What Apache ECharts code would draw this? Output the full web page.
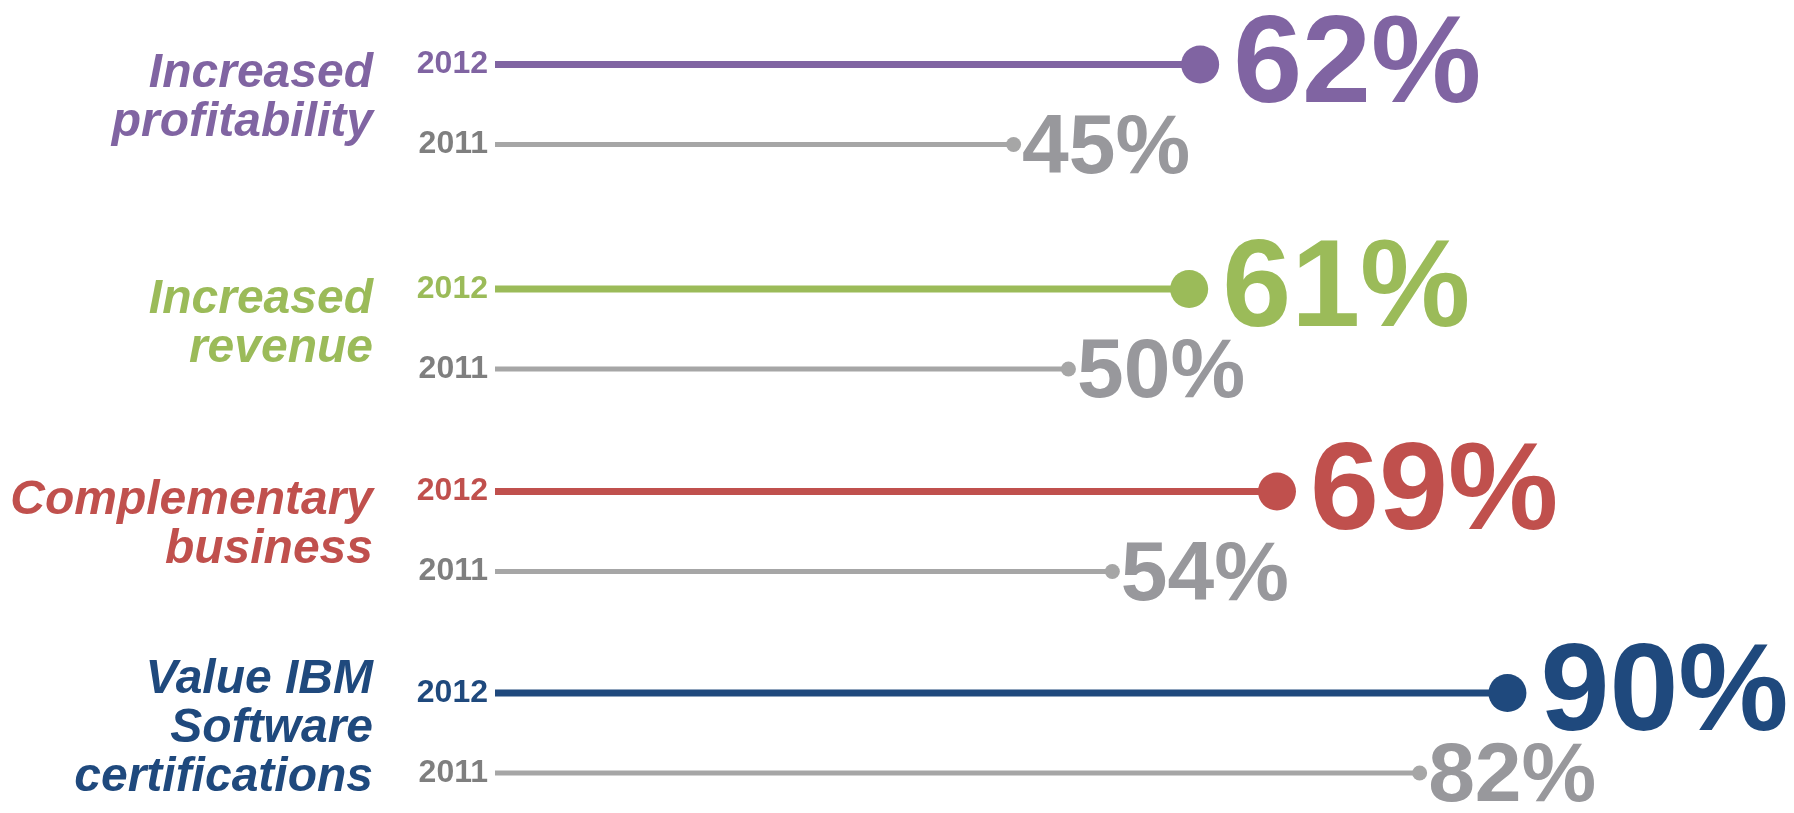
<!DOCTYPE html>
<html lang="en">
<head>
    <meta charset="UTF-8">
    <title>Survey results 2011 vs 2012</title>
    <script src="https://cdn.jsdelivr.net/npm/echarts@6/dist/echarts.min.js"></script>
    <style>
        html, body { margin: 0; padding: 0; background: #fff; }
        #chart { width: 1794px; height: 813px; }
    </style>
</head>
<body>

<div id="chart"></div>

<script type="text/javascript">
    // data
    var groups = ['Increased\nprofitability', 'Increased\nrevenue', 'Complementary\nbusiness', 'Value IBM\nSoftware\ncertifications'];
    var years = ['2012', '2011'];
    var values2012 = [62, 61, 69, 90];
    var values2011 = [45, 50, 54, 82];

    // look
    var groupColors = ['#8064a2', '#9bbb59', '#c0504d', '#1f497d'];
    var greyLine = '#a6a6a6';
    var greyText = '#98989c';
    var greyYear = '#7f7f7f';
    var font = 'Liberation Sans, Arial, sans-serif';

    // layout of the four blocks
    var gridTops = [24.5, 249, 451.5, 653];
    var gridHeight = 160;
    var nameShift = [6, 5, 6, 4];
    var xMin = -2.25, xMax = 100;

    var chart = echarts.init(document.getElementById('chart'));

    var grid = [], xAxis = [], yAxis = [], series = [];

    groups.forEach(function (name, g) {
        var color = groupColors[g];
        var vals = [values2012[g], values2011[g]];

        grid.push({
            left: 495,
            top: gridTops[g],
            width: (xMax - xMin) * 10.975,
            height: gridHeight,
            outerBoundsMode: 'none',
            containLabel: false
        });

        xAxis.push({gridIndex: g, type: 'value', min: xMin, max: xMax, show: false});

        yAxis.push({
            gridIndex: g,
            type: 'category',
            data: years,
            inverse: true,
            axisLine: {show: false},
            axisTick: {show: false},
            splitLine: {show: false},
            axisLabel: {
                margin: 7,
                fontSize: 32,
                fontWeight: 'bold',
                fontFamily: font,
                color: function (val) { return val === '2012' ? color : greyYear; }
            },
            // an empty last line lifts the block a little
            name: name + '\n{gap| }',
            nameLocation: 'middle',
            nameRotate: 0,
            nameGap: 122,
            nameTextStyle: {
                fontSize: 48,
                fontWeight: 'bold',
                fontStyle: 'italic',
                fontFamily: font,
                color: color,
                align: 'right',
                verticalAlign: 'middle',
                lineHeight: 49,
                rich: {
                    gap: {fontSize: 1, lineHeight: nameShift[g] * 2}
                }
            }
        });

        // the stems, drawn from the start of the axis to the value
        series.push({
            type: 'custom',
            xAxisIndex: g,
            yAxisIndex: g,
            z: 1,
            silent: true,
            data: years.map(function (y, i) { return [vals[i], y]; }),
            encode: {x: 0, y: 1},
            renderItem: function (params, api) {
                var start = api.coord([xMin, api.value(1)]);
                var end = api.coord([api.value(0), api.value(1)]);
                var first = params.dataIndex === 0;
                return {
                    type: 'line',
                    shape: {x1: start[0], y1: start[1], x2: end[0], y2: end[1]},
                    style: {stroke: first ? color : greyLine, lineWidth: first ? 7 : 5}
                };
            }
        });

        // end dots with the percentages
        series.push({
            type: 'scatter',
            xAxisIndex: g,
            yAxisIndex: g,
            z: 2,
            silent: true,
            data: years.map(function (y, i) {
                var first = i === 0;
                return {
                    value: [vals[i], y],
                    symbolSize: first ? 38 : 15,
                    itemStyle: {color: first ? color : greyLine, opacity: 1},
                    label: {
                        show: true,
                        position: 'right',
                        distance: first ? 14 : 1,
                        offset: first ? [0, 3] : [0, 5],
                        formatter: vals[i] + '%',
                        fontSize: first ? 124 : 84,
                        fontWeight: 'bold',
                        fontFamily: font,
                        color: first ? color : greyText
                    }
                };
            })
        });
    });

    var option = {
        backgroundColor: '#fff',
        animation: false,
        grid: grid,
        xAxis: xAxis,
        yAxis: yAxis,
        series: series
    };

    chart.setOption(option);
</script>
</body>
</html>
